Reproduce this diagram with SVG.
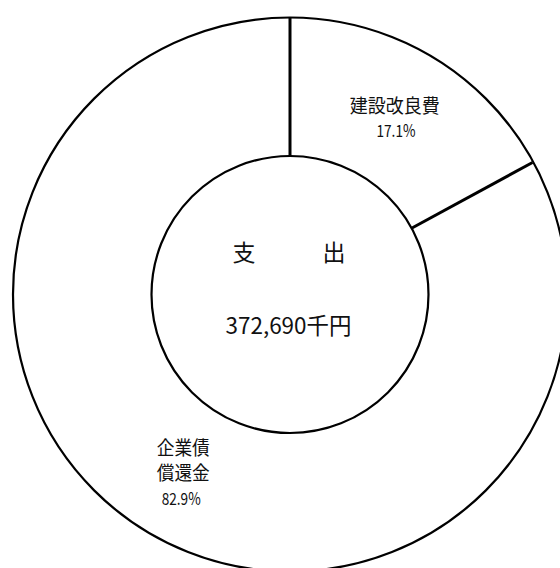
<svg xmlns="http://www.w3.org/2000/svg" width="560" height="568" viewBox="0 0 560 568">
<style>
.ring{fill:none;stroke:#000;stroke-width:2.2}
.div{stroke:#000;stroke-width:3;fill:none}
text{font-family:"Noto Sans CJK JP","Noto Sans CJK SC",sans-serif;fill:#111;text-anchor:middle}
.big{font-size:23px}
.num{font-size:22.5px}
.lbl{font-size:19px}
.pct{font-size:17px}
</style>
<rect width="560" height="568" fill="#fff"/>
<g id="chart">
<circle class="ring" cx="290" cy="294.5" r="277"/>
<circle class="ring" cx="290" cy="294.5" r="138.5"/>
</g>
<g id="connectors">
<line class="div" x1="290" y1="17.5" x2="290" y2="156"/>
<line class="div" x1="412" y1="228" x2="532.5" y2="162.5"/>
</g>
<g id="center">
<text class="big"><tspan x="244" y="261">支</tspan><tspan x="334" y="261">出</tspan></text>
<text class="num" x="288.5" y="334" textLength="126" lengthAdjust="spacingAndGlyphs">372,690千円</text>
</g>
<g id="seg-kensetsu">
<text class="lbl" x="394.7" y="113" textLength="90" lengthAdjust="spacingAndGlyphs">建設改良費</text>
<text class="pct" x="396" y="137" textLength="39" lengthAdjust="spacingAndGlyphs">17.1%</text>
</g>
<g id="seg-kigyousai">
<text class="lbl" x="183.3" y="455" textLength="53" lengthAdjust="spacingAndGlyphs">企業債</text>
<text class="lbl" x="183.3" y="480" textLength="53" lengthAdjust="spacingAndGlyphs">償還金</text>
<text class="pct" x="181.2" y="505" textLength="39" lengthAdjust="spacingAndGlyphs">82.9%</text>
</g>
</svg>
